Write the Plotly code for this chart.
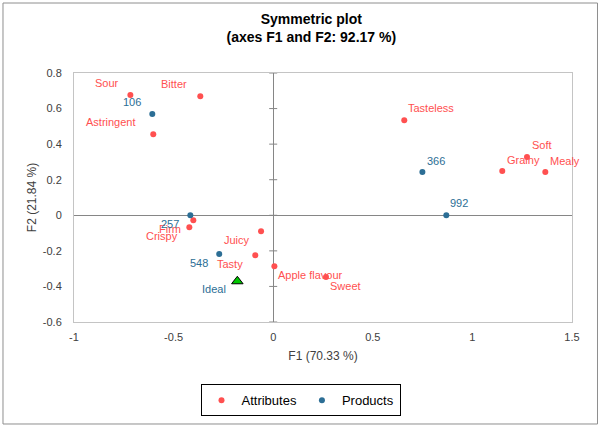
import plotly.graph_objects as go

# ---------------- data ----------------
attr_names = ["Sour", "Bitter", "Astringent", "Firm", "Crispy", "Juicy", "Tasty",
              "Apple flavour", "Sweet", "Tasteless", "Soft", "Grainy", "Mealy"]
attr_f1 = [-0.717, -0.366, -0.602, -0.401, -0.421, -0.061, -0.090,
           0.006, 0.265, 0.658, 1.274, 1.150, 1.366]
attr_f2 = [0.676, 0.669, 0.455, -0.028, -0.067, -0.090, -0.225,
           -0.287, -0.347, 0.534, 0.328, 0.249, 0.243]

prod_names = ["106", "257", "548", "366", "992"]
prod_f1 = [-0.607, -0.416, -0.271, 0.749, 0.869]
prod_f2 = [0.569, 0.000, -0.218, 0.243, 0.000]

ideal_name = ["Ideal"]
ideal_f1 = [-0.180]
ideal_f2 = [-0.371]

x_tickvals = [-1, -0.5, 0, 0.5, 1, 1.5]
x_ticktext = ["-1", "-0.5", "0", "0.5", "1", "1.5"]
y_tickvals = [-0.6, -0.4, -0.2, 0, 0.2, 0.4, 0.6, 0.8]
y_ticktext = ["-0.6", "-0.4", "-0.2", "0", "0.2", "0.4", "0.6", "0.8"]

# ---------------- styles ----------------
RED = "#FF5050"
BLUE = "#2C6E95"
GREEN = "#00C800"
FONT = "Liberation Sans, Arial, sans-serif"

# label placement: (xanchor, xshift px, yshift px)
label_pos = {
    "Sour": ("right", -10, 12), "Bitter": ("right", -12.5, 12),
    "Astringent": ("right", -16.5, 12), "Firm": ("right", -11, -9),
    "Crispy": ("right", -10, -9), "Juicy": ("right", -10, -9),
    "Tasty": ("right", -11, -9), "Apple flavour": ("left", 3, -9),
    "Sweet": ("left", 3.5, -9), "Tasteless": ("left", 3, 12),
    "Soft": ("left", 4, 12), "Grainy": ("left", 3.5, 11), "Mealy": ("left", 4, 11.5),
    "106": ("right", -10, 12), "257": ("right", -10, -9), "548": ("right", -10.5, -9),
    "366": ("left", 3.5, 11.5), "992": ("left", 3, 12), "Ideal": ("right", -10, -7.5),
}

fig = go.Figure()
fig.add_trace(go.Scatter(x=attr_f1, y=attr_f2, mode="markers", name="Attributes",
                         marker=dict(color=RED, size=6), hoverinfo="skip"))
fig.add_trace(go.Scatter(x=prod_f1, y=prod_f2, mode="markers", name="Products",
                         marker=dict(color=BLUE, size=6), hoverinfo="skip"))
fig.add_trace(go.Scatter(x=ideal_f1, y=ideal_f2, mode="markers", name="Ideal",
                         showlegend=False,
                         marker=dict(color=GREEN, size=10, symbol="triangle-up",
                                     line=dict(color="black", width=1)), hoverinfo="skip"))

annotations = []
for names, xs, ys, col in [(attr_names, attr_f1, attr_f2, RED),
                           (prod_names, prod_f1, prod_f2, BLUE),
                           (ideal_name, ideal_f1, ideal_f2, BLUE)]:
    for n, xv, yv in zip(names, xs, ys):
        anc, xs_, ys_ = label_pos[n]
        annotations.append(dict(x=xv, y=yv, xref="x", yref="y", text=n, showarrow=False,
                                xanchor=anc, yanchor="middle", xshift=xs_, yshift=ys_,
                                borderpad=0, font=dict(family=FONT, size=11, color=col)))

shapes = []
# crossing tick marks on the vertical zero line
for yv in y_tickvals:
    shapes.append(dict(type="line", xref="x", yref="y", xsizemode="pixel", xanchor=0,
                       x0=-4, x1=4, y0=yv, y1=yv, line=dict(color="#868686", width=1)))
# outer chart frame
shapes.append(dict(type="rect", xref="paper", yref="paper",
                   x0=-0.1426, x1=1.0512, y0=-0.4096, y1=1.2811,
                   line=dict(color="#8E8E8E", width=1), layer="below"))

fig.update_layout(
    width=601, height=427,
    margin=dict(l=74, r=29, t=73, b=105, autoexpand=False),
    paper_bgcolor="white", plot_bgcolor="white",
    font=dict(family=FONT, color="#404040"),
    title=dict(text="<b>Symmetric plot<br>(axes F1 and F2: 92.17 %)</b>",
               x=0.518, xref="container", xanchor="center",
               y=0.944, yref="container", yanchor="top", automargin=False,
               font=dict(family=FONT, size=14, color="black")),
    xaxis=dict(range=[-1, 1.5], tickvals=x_tickvals, ticktext=x_ticktext,
               showgrid=False, zeroline=True, zerolinecolor="#868686", zerolinewidth=1,
               showline=True, mirror=True, linecolor="#C4C4C4", linewidth=1,
               ticks="", tickfont=dict(size=11, color="#404040"), ticklabelstandoff=5,
               automargin=False,
               title=dict(text="F1 (70.33 %)", font=dict(size=12, color="#404040"), standoff=9)),
    yaxis=dict(range=[-0.6, 0.8], tickvals=y_tickvals, ticktext=y_ticktext,
               showgrid=False, zeroline=True, zerolinecolor="#868686", zerolinewidth=1,
               showline=True, mirror=True, linecolor="#C4C4C4", linewidth=1,
               ticks="", tickfont=dict(size=11, color="#404040"), ticklabelstandoff=9,
               automargin=False,
               title=dict(text="F2 (21.84 %)", font=dict(size=12, color="#404040"), standoff=3)),
    legend=dict(orientation="h", xref="container", x=0.5, xanchor="center",
                yref="container", y=0.1, yanchor="top",
                bordercolor="black", borderwidth=1, itemwidth=30,
                font=dict(family=FONT, size=13, color="black")),
    annotations=annotations, shapes=shapes,
)

fig.write_html("out.html", config={"displayModeBar": False},
               post_script="document.body.style.margin='0';document.body.style.padding='0';")
